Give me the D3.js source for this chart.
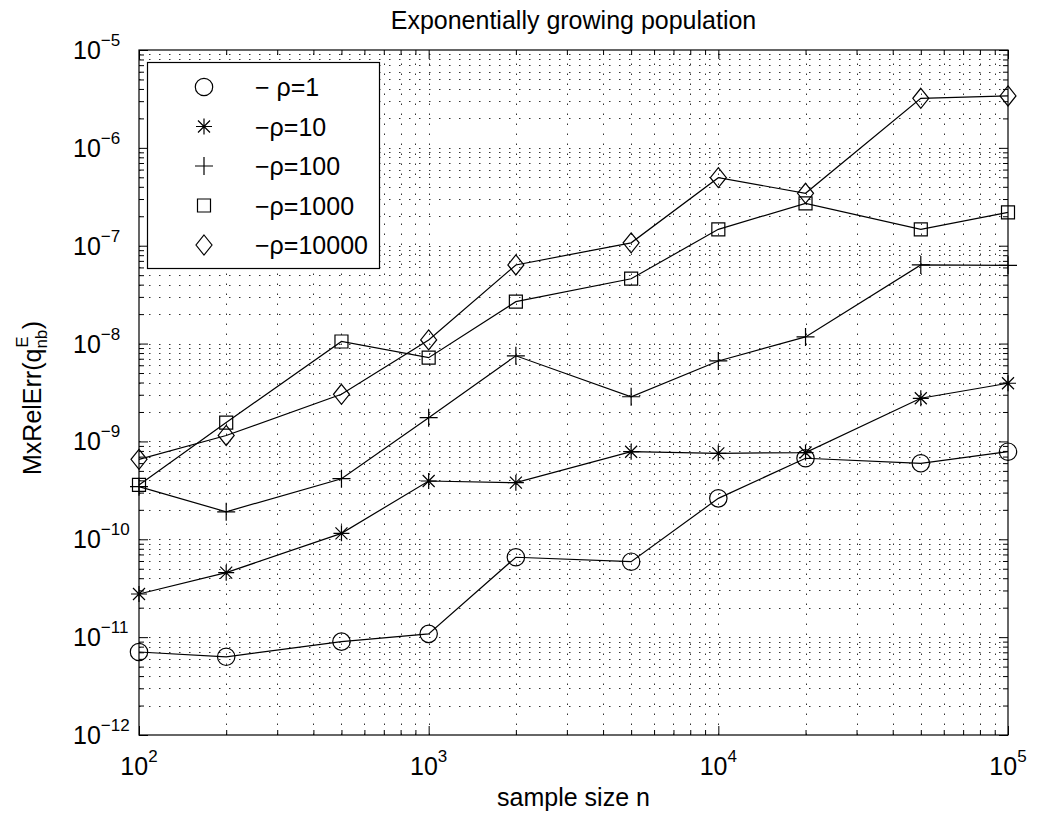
<!DOCTYPE html>
<html>
<head>
<meta charset="utf-8">
<script src="https://cdn.jsdelivr.net/npm/d3@7"></script>
<style>
  body { margin: 0; background: #fff; }
  text { font-family: "Liberation Sans", Arial, Helvetica, sans-serif; fill: #000; }
</style>
</head>
<body>
<div id="chart"></div>
<script>
// sample sizes n and max relative error per rho
const sampleSizes = [100, 200, 500, 1000, 2000, 5000, 10000, 20000, 50000, 100000];
const rho1     = [7.05e-12, 6.3e-12, 9.0e-12, 1.08e-11, 6.55e-11, 5.9e-11, 2.62e-10, 6.73e-10, 5.98e-10, 7.85e-10];
const rho10    = [2.76e-11, 4.56e-11, 1.15e-10, 3.94e-10, 3.79e-10, 7.85e-10, 7.55e-10, 7.7e-10, 2.76e-9, 3.93e-9];
const rho100   = [3.45e-10, 1.91e-10, 4.16e-10, 1.75e-9, 7.5e-9, 2.86e-9, 6.64e-9, 1.17e-8, 6.36e-8, 6.3e-8];
const rho1000  = [3.59e-10, 1.56e-9, 1.05e-8, 7.18e-9, 2.68e-8, 4.6e-8, 1.47e-7, 2.71e-7, 1.47e-7, 2.19e-7];
const rho10000 = [6.56e-10, 1.15e-9, 3.03e-9, 1.09e-8, 6.36e-8, 1.07e-7, 4.96e-7, 3.43e-7, 3.21e-6, 3.39e-6];

const seriesNames = ["\u2212 \u03c1=1", "\u2212\u03c1=10", "\u2212\u03c1=100", "\u2212\u03c1=1000", "\u2212\u03c1=10000"];
const seriesMarkers = ["circle", "star", "plus", "square", "diamond"];

const xTickExps = [2, 3, 4, 5];
const yTickExps = [-12, -11, -10, -9, -8, -7, -6, -5];

const titleText = "Exponentially growing population";
const xLabelText = "sample size n";

const W = 1042, H = 814;
const margin = {left: 139, right: 1042 - 1008, top: 50, bottom: 814 - 735};

var svg = d3.select("#chart").append("svg")
  .attr("width", W).attr("height", H)
  .style("display", "block");
svg.append("rect").attr("width", W).attr("height", H).attr("fill", "#fff");

var x = d3.scaleLog().domain([1e2, 1e5]).range([margin.left, W - margin.right]);
var y = d3.scaleLog().domain([1e-12, 1e-5]).range([H - margin.bottom, margin.top]);

// minor + major tick positions
function logTicks(lo, hi) {
  var out = [];
  for (var e = lo; e < hi; e++) {
    for (var m = 1; m < 10; m++) out.push(m * Math.pow(10, e));
  }
  out.push(Math.pow(10, hi));
  return out;
}
var xAll = logTicks(2, 5), yAll = logTicks(-12, -5);
var xMajor = xTickExps.map(e => Math.pow(10, e));
var yMajor = yTickExps.map(e => Math.pow(10, e));
var xMinor = xAll.filter(v => xMajor.indexOf(v) < 0);
var yMinor = yAll.filter(v => yMajor.indexOf(v) < 0);

var x0 = x.range()[0], x1 = x.range()[1], y0 = y.range()[1], y1 = y.range()[0];

//// grid (dotted) ////
var grid = svg.append("g").attr("stroke", "#333").attr("stroke-width", 1)
  .attr("stroke-dasharray", "1.5,8.5");
grid.selectAll(".gx").data(xAll.slice(1, -1)).enter().append("line")
  .attr("x1", d => Math.round(x(d)) + 0.5).attr("x2", d => Math.round(x(d)) + 0.5)
  .attr("y1", y1).attr("y2", y0);
grid.selectAll(".gy").data(yAll.slice(1, -1)).enter().append("line")
  .attr("y1", d => Math.round(y(d)) + 0.5).attr("y2", d => Math.round(y(d)) + 0.5)
  .attr("x1", x0).attr("x2", x1);

//// ticks on all four sides (inward) ////
function tickAxis(axisFn, scale, vals, size, transform) {
  var g = svg.append("g").attr("transform", transform)
    .call(axisFn(scale).tickValues(vals).tickSize(-size).tickFormat(""));
  g.select(".domain").remove();
  g.selectAll("line").attr("stroke", "#000").attr("stroke-width", 1);
  return g;
}
tickAxis(d3.axisBottom, x, xMajor, 9, "translate(0," + y1 + ")");
tickAxis(d3.axisBottom, x, xMinor, 5, "translate(0," + y1 + ")");
tickAxis(d3.axisTop, x, xMajor, 9, "translate(0," + y0 + ")");
tickAxis(d3.axisTop, x, xMinor, 5, "translate(0," + y0 + ")");
tickAxis(d3.axisLeft, y, yMajor, 9, "translate(" + x0 + ",0)");
tickAxis(d3.axisLeft, y, yMinor, 5, "translate(" + x0 + ",0)");
tickAxis(d3.axisRight, y, yMajor, 9, "translate(" + x1 + ",0)");
tickAxis(d3.axisRight, y, yMinor, 5, "translate(" + x1 + ",0)");

svg.append("rect").attr("x", x0).attr("y", y0)
  .attr("width", x1 - x0).attr("height", y1 - y0)
  .attr("fill", "none").attr("stroke", "#000").attr("stroke-width", 1.2);

//// tick labels ////
var xl = svg.append("g").selectAll("text").data(xTickExps).enter().append("text")
  .attr("x", d => x(Math.pow(10, d)))
  .attr("y", 775)
  .attr("text-anchor", "middle")
  .style("font-size", "25px");
xl.append("tspan").text("10");
xl.append("tspan").attr("dy", -13).style("font-size", "17px").text(d => d);

var yl = svg.append("g").selectAll("text").data(yTickExps).enter().append("text")
  .attr("x", 73)
  .attr("y", d => y(Math.pow(10, d)) + 9)
  .style("font-size", "25px");
yl.append("tspan").text("10");
yl.append("tspan").attr("dy", -13).style("font-size", "17px").text(d => "\u2212" + Math.abs(d));

//// title + axis labels ////
svg.append("text").attr("x", (x0 + x1) / 2).attr("y", 29)
  .attr("text-anchor", "middle").style("font-size", "25px").text(titleText);

svg.append("text").attr("x", (x0 + x1) / 2).attr("y", 806)
  .attr("text-anchor", "middle").style("font-size", "25px").text(xLabelText);

var yLab = svg.append("text")
  .attr("transform", "translate(41," + 398 + ") rotate(-90)")
  .attr("text-anchor", "middle").style("font-size", "25px");
yLab.append("tspan").text("MxRelErr(q");
yLab.append("tspan").attr("dy", 6).style("font-size", "17px").text("nb");
yLab.append("tspan").attr("dx", -18).attr("dy", -19).style("font-size", "17px").text("E");
yLab.append("tspan").attr("dx", 7).attr("dy", 13).text(")");

//// markers ////
function markerPath(kind) {
  var p = d3.path();
  if (kind === "circle") { p.moveTo(8.7, 0); p.arc(0, 0, 8.7, 0, 2 * Math.PI); }
  if (kind === "square") { p.rect(-6.5, -6.5, 13, 13); }
  if (kind === "diamond") { p.moveTo(0, -10); p.lineTo(8, 0); p.lineTo(0, 10); p.lineTo(-8, 0); p.closePath(); }
  if (kind === "plus") { p.moveTo(-9, 0); p.lineTo(9, 0); p.moveTo(0, -9); p.lineTo(0, 9); }
  if (kind === "star") {
    p.moveTo(-8, 0); p.lineTo(8, 0); p.moveTo(0, -8); p.lineTo(0, 8);
    p.moveTo(-6, -6); p.lineTo(6, 6); p.moveTo(-6, 6); p.lineTo(6, -6);
  }
  return p.toString();
}

var allSeries = [rho1, rho10, rho100, rho1000, rho10000];
var line = d3.line().x(d => x(d[0])).y(d => y(d[1]));

allSeries.forEach(function(vals, i) {
  var pts = sampleSizes.map((n, j) => [n, vals[j]]);
  var g = svg.append("g");
  g.append("path").datum(pts).attr("d", line)
    .attr("fill", "none").attr("stroke", "#000").attr("stroke-width", 1.2);
  g.selectAll("path.m").data(pts).enter().append("path").attr("class", "m")
    .attr("transform", d => "translate(" + x(d[0]) + "," + y(d[1]) + ")")
    .attr("d", markerPath(seriesMarkers[i]))
    .attr("fill", "none").attr("stroke", "#000").attr("stroke-width", 1.2);
});

//// legend ////
var leg = svg.append("g");
leg.append("rect").attr("x", 147.5).attr("y", 62.5).attr("width", 232).attr("height", 206)
  .attr("fill", "#fff").attr("stroke", "#000").attr("stroke-width", 1.2);
var rows = leg.selectAll("g.row").data(seriesNames).enter().append("g")
  .attr("transform", (d, i) => "translate(0," + (87 + i * 39.5) + ")");
rows.append("path").attr("transform", "translate(204,0)")
  .attr("d", (d, i) => markerPath(seriesMarkers[i]))
  .attr("fill", "none").attr("stroke", "#000").attr("stroke-width", 1.2);
rows.append("text").attr("x", 255).attr("y", 9).style("font-size", "25px").text(d => d);
</script>
</body>
</html>
